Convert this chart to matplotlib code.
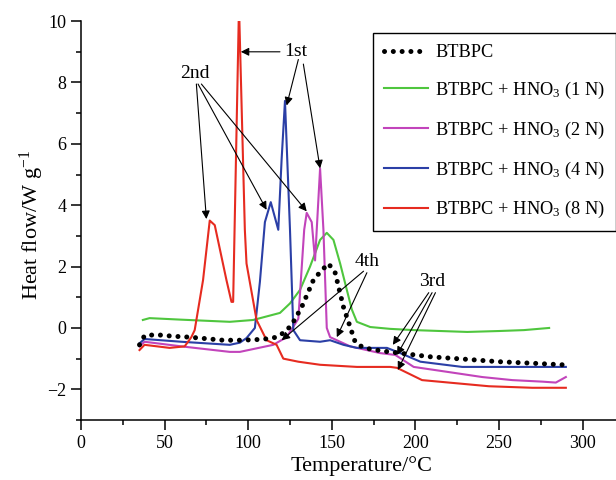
import matplotlib

matplotlib.use("Agg")
import matplotlib.pyplot as plt

plt.rcParams.update(
    {
        "font.family": ["Liberation Serif", "DejaVu Serif"],
        "mathtext.fontset": "custom",
        "mathtext.rm": "Liberation Serif",
        "mathtext.it": "Liberation Serif:italic",
        "mathtext.default": "regular",
        "axes.linewidth": 1.1,
    }
)

# --- data (T in degC, heat flow in W/g) ---
t_base = [35, 38, 45, 55, 65, 75, 85, 95, 105, 112, 117, 122, 126, 132, 139, 143,
          148, 152, 157, 164, 169, 180, 189, 200, 209, 230, 250, 270, 288]
h_base = [-0.55, -0.25, -0.22, -0.27, -0.3, -0.35, -0.4, -0.4, -0.38, -0.35, -0.3,
          -0.13, 0.1, 0.68, 1.56, 1.82, 2.1, 1.8, 0.68, -0.46, -0.65, -0.75, -0.81,
          -0.88, -0.94, -1.02, -1.1, -1.15, -1.2]

t_1n = [37, 41, 60, 89, 103, 119, 125, 131, 137, 143, 147, 151, 155, 159, 162, 165,
        173, 185, 199, 215, 231, 250, 265, 280]
h_1n = [0.26, 0.32, 0.27, 0.2, 0.26, 0.49, 0.8, 1.24, 2.0, 2.87, 3.1, 2.87, 2.1,
        1.24, 0.6, 0.2, 0.03, -0.03, -0.07, -0.1, -0.13, -0.1, -0.07, 0.0]

t_2n = [35, 38, 60, 89, 95, 115, 123, 130, 133.5, 135, 138, 140, 143, 145, 147, 149,
        155, 161, 179, 188, 199, 219, 240, 258, 276, 284, 290]
h_2n = [-0.6, -0.45, -0.6, -0.78, -0.78, -0.55, -0.3, 0.3, 3.2, 3.75, 3.45, 2.2,
        5.2, 3.2, 0.0, -0.3, -0.45, -0.6, -0.82, -0.88, -1.27, -1.43, -1.6, -1.7,
        -1.75, -1.78, -1.6]

t_4n = [35, 38, 60, 89, 95, 99, 104, 107, 110, 113.5, 118, 120, 122, 125, 127, 131,
        143, 149, 157, 165, 183, 191, 203, 228, 260, 290]
h_4n = [-0.5, -0.36, -0.45, -0.55, -0.48, -0.33, 0.0, 1.5, 3.45, 4.1, 3.2, 5.5, 7.4,
        3.2, -0.07, -0.4, -0.45, -0.4, -0.55, -0.65, -0.65, -0.82, -1.1, -1.27,
        -1.27, -1.27]

t_8n = [35, 38, 53, 62, 66, 68, 73, 77, 80, 87, 90, 91, 94.5, 98, 99, 105, 111, 117,
        121, 130, 143, 165, 185, 189, 204, 224, 244, 270, 290]
h_8n = [-0.72, -0.55, -0.65, -0.6, -0.3, -0.07, 1.56, 3.5, 3.35, 1.56, 0.85, 0.85,
        10.5, 3.2, 2.1, 0.26, -0.4, -0.55, -1.0, -1.1, -1.2, -1.27, -1.27, -1.3,
        -1.7, -1.8, -1.9, -1.95, -1.95]

labels = ["BTBPC", "BTBPC + HNO$_3$ (1 N)", "BTBPC + HNO$_3$ (2 N)",
          "BTBPC + HNO$_3$ (4 N)", "BTBPC + HNO$_3$ (8 N)"]

fig = plt.figure(figsize=(6.16, 4.8), dpi=100)
ax = fig.add_axes([0.1315, 0.125, 0.8685, 0.831])

ax.plot(t_base, h_base, color="black", lw=3.6, linestyle=(0, (0.01, 1.75)),
        dash_capstyle="round", label=labels[0], zorder=4)
ax.plot(t_1n, h_1n, color="#4fc63e", lw=1.5, label=labels[1])
ax.plot(t_2n, h_2n, color="#c244bb", lw=1.5, label=labels[2])
ax.plot(t_4n, h_4n, color="#2b3fa6", lw=1.5, label=labels[3])
ax.plot(t_8n, h_8n, color="#e62b20", lw=1.5, label=labels[4])

ax.set_xlim(0, 320)
ax.set_ylim(-3, 10)
ax.set_xticks([0, 50, 100, 150, 200, 250, 300])
ax.set_xticks(range(25, 320, 50), minor=True)
ax.set_yticks([-2, 0, 2, 4, 6, 8, 10])
ax.set_yticks([-3, -1, 1, 3, 5, 7, 9], minor=True)
ax.tick_params(which="major", direction="out", length=7, width=1.1, labelsize=13)
ax.tick_params(which="minor", direction="out", length=3.5, width=1.1)
ax.spines["top"].set_visible(False)
ax.spines["right"].set_visible(False)

ax.set_xlabel("Temperature/°C", fontsize=16)
ax.set_ylabel("Heat flow/W g$^{-1}$", fontsize=16)
ax.xaxis.set_label_coords(0.525, -0.09)
ax.yaxis.set_label_coords(-0.066, 0.49)

leg = ax.legend(loc="upper left", bbox_to_anchor=(0.546, 0.97), borderaxespad=0,
                fontsize=13.2, fancybox=False, framealpha=1, edgecolor="black",
                handlelength=2.4, handletextpad=0.4, labelspacing=1.02,
                borderpad=0.6)
leg.get_frame().set_linewidth(1.0)


def note(text, pos, targets):
    ax.text(pos[0], pos[1], text, fontsize=14, ha="center", va="center")
    for start, end in targets:
        ax.annotate("", xy=end, xytext=start,
                    arrowprops=dict(arrowstyle="-|>", color="black", lw=0.8,
                                    mutation_scale=12, shrinkA=0, shrinkB=0))


note("1st", (128.5, 9.0), [((119, 9.0), (95.6, 9.0)),
                           ((130, 8.75), (123, 7.25)),
                           ((133, 8.6), (143, 5.2))])
note("2nd", (68, 8.3), [((69, 7.95), (75, 3.55)),
                        ((70, 7.95), (111, 3.85)),
                        ((72, 7.95), (135, 3.8))])
note("4th", (171, 2.15), [((169, 1.85), (120, -0.4)),
                          ((171, 1.8), (153, -0.3))])
note("3rd", (210, 1.5), [((208, 1.15), (186.5, -0.55)),
                         ((210, 1.15), (189, -0.88)),
                         ((212, 1.15), (189.5, -1.37))])

fig.savefig("out.png", dpi=100)
